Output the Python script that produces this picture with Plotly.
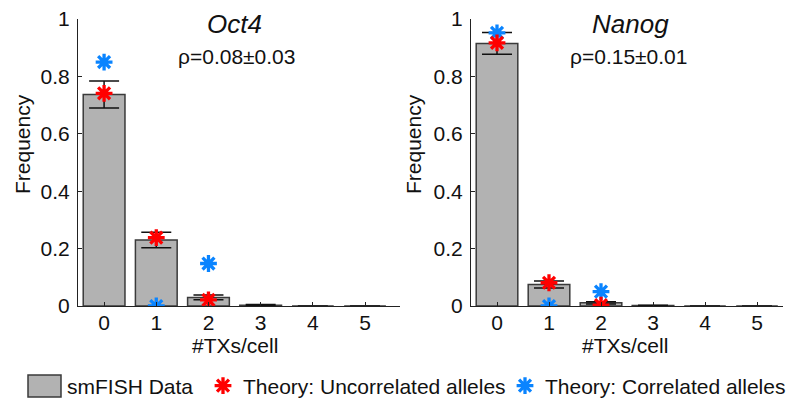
import plotly.graph_objects as go

# ---------------- data ----------------
categories = [0, 1, 2, 3, 4, 5]
x_tick_labels = ["0", "1", "2", "3", "4", "5"]
y_ticks = [0, 0.2, 0.4, 0.6, 0.8, 1]
y_tick_labels = ["0", "0.2", "0.4", "0.6", "0.8", "1"]

theory_x = [0, 1, 2]

oct4_freq = [0.737, 0.230, 0.030, 0.003, 0.0, 0.0]
oct4_err = [0.047, 0.027, 0.008, 0.002, 0.0, 0.0]
oct4_uncorr = [0.741, 0.238, 0.021]
oct4_corr = [0.850, 0.0, 0.148]

nanog_freq = [0.915, 0.075, 0.011, 0.002, 0.0, 0.0]
nanog_err = [0.038, 0.012, 0.004, 0.001, 0.0, 0.0]
nanog_uncorr = [0.917, 0.081, 0.003]
nanog_corr = [0.952, 0.0, 0.050]

panel_titles = ["Oct4", "Nanog"]
rho_labels = ["ρ=0.08±0.03", "ρ=0.15±0.01"]
x_title = "#TXs/cell"
y_title = "Frequency"
legend_labels = ["smFISH Data", "Theory: Uncorrelated alleles", "Theory: Correlated alleles"]

# ---------------- style ----------------
W, H = 788, 400
FONT = "Arial, 'Liberation Sans', sans-serif"
BAR_FILL = "#b2b2b2"
BAR_LINE = "#3a3a3a"
RED = "#ff0000"
BLUE = "#0a84ff"
AX = "#222222"
TXT = "#111111"


def px(x):
    return x / W


def py(y):
    return 1 - y / H


fig = go.Figure()

panels = [
    (oct4_freq, oct4_err, oct4_uncorr, oct4_corr, "x", "y"),
    (nanog_freq, nanog_err, nanog_uncorr, nanog_corr, "x2", "y2"),
]

for i, (freq, err, unc, cor, xa, ya) in enumerate(panels):
    fig.add_trace(go.Bar(
        x=categories, y=freq, xaxis=xa, yaxis=ya, width=0.8,
        marker=dict(color=BAR_FILL, line=dict(color=BAR_LINE, width=1.5)),
        error_y=dict(type="data", array=err, visible=True, color="#111111",
                     thickness=1.5, width=15),
        name=legend_labels[0], showlegend=False,
    ))
    fig.add_trace(go.Scatter(
        x=theory_x, y=cor, xaxis=xa, yaxis=ya, mode="markers",
        marker=dict(symbol="asterisk-open", size=14, color=BLUE,
                    line=dict(color=BLUE, width=3.3)),
        name=legend_labels[2], showlegend=(i == 0), legend="legend2",
    ))
    fig.add_trace(go.Scatter(
        x=theory_x, y=unc, xaxis=xa, yaxis=ya, mode="markers",
        marker=dict(symbol="asterisk-open", size=14, color=RED,
                    line=dict(color=RED, width=3.3)),
        name=legend_labels[1], showlegend=(i == 0), legend="legend",
    ))

xcommon = dict(tickvals=categories, ticktext=x_tick_labels, showline=True,
               linecolor=AX, linewidth=1.2, ticks="inside", ticklen=4,
               tickcolor=AX, showgrid=False, zeroline=False, automargin=False,
               tickfont=dict(family=FONT, size=21, color=TXT),
               ticklabelstandoff=-2, fixedrange=True)
ycommon = dict(range=[0, 1], tickvals=y_ticks, ticktext=y_tick_labels,
               showline=True, linecolor=AX, linewidth=1.2, ticks="inside",
               ticklen=4, tickcolor=AX, showgrid=False, zeroline=False,
               automargin=False,
               tickfont=dict(family=FONT, size=21, color=TXT),
               ticklabelstandoff=3, fixedrange=True)

legend_common = dict(orientation="h", yanchor="middle", y=py(386),
                     font=dict(family=FONT, size=21, color=TXT),
                     itemwidth=30, bgcolor="rgba(0,0,0,0)",
                     itemclick=False, itemdoubleclick=False)

fig.update_layout(
    width=W, height=H,
    margin=dict(l=0, r=0, t=0, b=0, autoexpand=False),
    paper_bgcolor="white", plot_bgcolor="white",
    xaxis=dict(domain=[px(78), px(400)], range=[-0.5, 5.67], anchor="y", **xcommon),
    yaxis=dict(domain=[py(306), py(19)], anchor="x", **ycommon),
    xaxis2=dict(domain=[px(471), px(783)], range=[-0.5, 5.5], anchor="y2", **xcommon),
    yaxis2=dict(domain=[py(306), py(19)], anchor="x2", **ycommon),
    showlegend=True,
    legend=dict(x=px(203), xanchor="left", **legend_common),
    legend2=dict(x=px(791), xanchor="right", **legend_common),
)

annotations = []
title_cx = [235, 630]
rho_cx = [236, 628]
xt_cx = [235, 625]
yt_cx = [22, 413]
for i in range(2):
    annotations.append(dict(text="<i>" + panel_titles[i] + "</i>", x=px(title_cx[i]), y=py(24),
                            xref="paper", yref="paper", xanchor="center", yanchor="middle",
                            showarrow=False, font=dict(family=FONT, size=26, color=TXT)))
    annotations.append(dict(text=rho_labels[i], x=px(rho_cx[i]), y=py(56),
                            xref="paper", yref="paper", xanchor="center", yanchor="middle",
                            showarrow=False, font=dict(family=FONT, size=21, color=TXT)))
    annotations.append(dict(text=x_title, x=px(xt_cx[i]), y=py(345),
                            xref="paper", yref="paper", xanchor="center", yanchor="middle",
                            showarrow=False, font=dict(family=FONT, size=21, color=TXT)))
    annotations.append(dict(text=y_title, x=px(yt_cx[i]), y=py(144), textangle=-90,
                            xref="paper", yref="paper", xanchor="center", yanchor="middle",
                            showarrow=False, font=dict(family=FONT, size=21, color=TXT)))

# legend key for the bar series (large swatch as in the reference)
annotations.append(dict(text=legend_labels[0], x=px(65), y=py(386), xref="paper", yref="paper",
                        xanchor="left", yanchor="middle", showarrow=False,
                        font=dict(family=FONT, size=21, color=TXT)))
fig.update_layout(annotations=annotations)
fig.add_shape(type="rect", xref="paper", yref="paper", x0=px(28), x1=px(61),
              y0=py(397), y1=py(375), fillcolor=BAR_FILL, line=dict(color=BAR_LINE, width=1.5))

fig.write_html(
    "out.html",
    config={"displayModeBar": False, "staticPlot": False},
    post_script="document.body.style.margin='0';document.body.style.overflow='hidden';",
)
